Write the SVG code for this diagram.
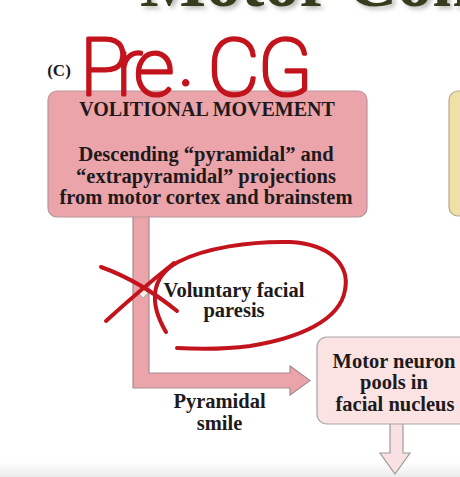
<svg xmlns="http://www.w3.org/2000/svg" width="460" height="477" viewBox="0 0 460 477">
<defs>
<linearGradient id="bottomShade" x1="0" y1="0" x2="0" y2="1">
<stop offset="0" stop-color="#ffffff"/>
<stop offset="1" stop-color="#ebebeb"/>
</linearGradient>
<filter id="shadow" x="-10%" y="-50%" width="120%" height="200%"><feDropShadow dx="3" dy="3" stdDeviation="2" flood-color="#808078" flood-opacity="0.5"/></filter>
</defs>
<style>
.lbl{font-family:"Liberation Serif","Times New Roman",serif;font-weight:bold;fill:#1e1a1a;text-anchor:middle}
.ink{fill:none;stroke:#c3141e;stroke-width:4;stroke-linecap:round;stroke-linejoin:round}
.hand{font-family:Roboto,"DejaVu Sans",sans-serif;font-weight:100;fill:#c3141e;stroke:#c3141e;stroke-width:3.2;stroke-linejoin:round;stroke-linecap:round}
</style>
<rect width="460" height="477" fill="#ffffff"/>
<rect x="0" y="462" width="460" height="15" fill="url(#bottomShade)"/>

<g id="title">
<text x="140" y="6" font-family="Liberation Serif,serif" font-weight="bold" font-size="70" fill="#363c1c" filter="url(#shadow)">Motor Con</text>
</g>

<g id="panel-label">
<text x="59" y="76" class="lbl" font-size="17">(C)</text>
</g>

<g id="connectors">
<path d="M133,214 L133,388 L290,388 L290,395 L310,380.5 L290,366 L290,373 L149,373 L149,214" fill="#eca4ab" stroke="#a88c90" stroke-width="1.2"/>
<path d="M390,422 L390,453 L380,453 L395,474 L410,453 L403,453 L403,422" fill="#f9e0e2" stroke="#9e9a9a" stroke-width="1.2"/>
<path d="M143,288 L148,293 L143,298 L138,293 Z" fill="#f4f2ea" stroke="#9a9a90" stroke-width="0.8"/>
</g>

<g id="volitional">
<rect x="48" y="91" width="319" height="126" rx="9" fill="#eca4ab" stroke="#b8959a" stroke-width="1.2"/>
<text x="207" y="116" class="lbl" font-size="20">VOLITIONAL MOVEMENT</text>
<text x="206" y="161" class="lbl" font-size="20.5">Descending “pyramidal” and</text>
<text x="206" y="182.5" class="lbl" font-size="20.5">“extrapyramidal” projections</text>
<text x="206" y="204" class="lbl" font-size="20.5">from motor cortex and brainstem</text>
</g>

<g id="emotional">
<rect x="449" y="91" width="40" height="125" rx="9" fill="#efe0a6" stroke="#b5aa8c" stroke-width="1.2"/>
</g>

<g id="voluntary-paresis">
<text x="234" y="297" class="lbl" font-size="20.5">Voluntary facial</text>
<text x="234" y="317" class="lbl" font-size="20.5">paresis</text>
</g>

<g id="pyramidal-smile">
<text x="219.5" y="408" class="lbl" font-size="20.5">Pyramidal</text>
<text x="219.5" y="430" class="lbl" font-size="20.5">smile</text>
</g>

<g id="motor-neuron">
<rect x="317" y="337" width="160" height="87" rx="10" fill="#fbe3e4" stroke="#a9a3a3" stroke-width="1.2"/>
<text x="394" y="368" class="lbl" font-size="20.5">Motor neuron</text>
<text x="394" y="389" class="lbl" font-size="20.5">pools in</text>
<text x="395" y="410.5" class="lbl" font-size="20.5">facial nucleus</text>
</g>

<g id="annotations">
<text class="hand" font-size="80" x="80" y="95" dx="0 -12 -8 2 13 -2" dy="0 0 0 15 -15 0">Pre·CG</text>
<path class="ink" d="M101,267 Q140,281 177,311"/>
<path class="ink" d="M106,321 Q140,290 174,263"/>
<path class="ink" d="M166,332 C150,305 149,278 178,262 C205,248 250,241 290,242 C330,244 350,265 345,290 C340,320 300,338 250,346 C220,350 195,349 177,348"/>
</g>
</svg>
